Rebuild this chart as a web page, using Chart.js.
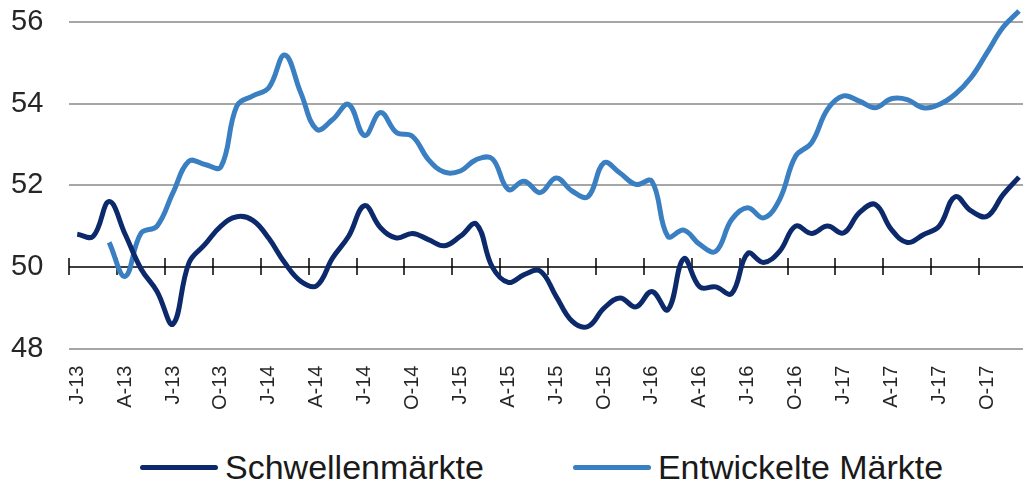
<!DOCTYPE html>
<html>
<head>
<meta charset="utf-8">
<script src="https://cdn.jsdelivr.net/npm/chart.js@4.4.1/dist/chart.umd.min.js"></script>
<style>
html,body{margin:0;padding:0;background:#fff;overflow:hidden}
#wrap{position:relative;width:1027px;height:482px}
#box{position:absolute;left:0;top:0;width:1027px;height:410px}
#legend{position:absolute;left:140px;top:448px;width:max-content;display:flex;flex-wrap:nowrap;white-space:nowrap;align-items:center;font-family:'Liberation Sans',Arial,sans-serif;font-size:34px;color:#1a1a1a}
#legend .item{display:flex;align-items:center;flex:none;margin-right:89px}
#legend .sw{display:inline-block;flex:none;width:78px;height:5px;border-radius:3px;margin-right:7px}
</style>
</head>
<body>
<div id="wrap">
  <div id="box"><canvas id="chart"></canvas></div>
  <div id="legend"></div>
</div>
<script>
// monthly PMI, Jan 2013 - Dec 2017
const months = [
  'J-13','F-13','M-13','A-13','M-13','J-13','J-13','A-13','S-13','O-13','N-13','D-13',
  'J-14','F-14','M-14','A-14','M-14','J-14','J-14','A-14','S-14','O-14','N-14','D-14',
  'J-15','F-15','M-15','A-15','M-15','J-15','J-15','A-15','S-15','O-15','N-15','D-15',
  'J-16','F-16','M-16','A-16','M-16','J-16','J-16','A-16','S-16','O-16','N-16','D-16',
  'J-17','F-17','M-17','A-17','M-17','J-17','J-17','A-17','S-17','O-17','N-17','D-17'
];

const emerging = [
  50.8, 50.75, 51.6, 50.8, 49.95, 49.4, 48.6, 50.1, 50.55, 51.0, 51.23, 51.14,
  50.7, 50.1, 49.65, 49.54, 50.22, 50.75, 51.5, 50.96, 50.71, 50.82, 50.67, 50.52,
  50.75, 51.05, 50.0, 49.62, 49.81, 49.9, 49.28, 48.67, 48.54, 48.99, 49.24, 49.02,
  49.4, 48.95, 50.2, 49.51, 49.51, 49.35, 50.33, 50.11, 50.38, 51.0, 50.82, 51.0,
  50.83, 51.33, 51.53, 50.92, 50.6, 50.79, 51.0, 51.72, 51.37, 51.24, 51.77, 52.2
];

const developed = [
  null, null, 50.6, 49.77, 50.83, 51.0, 51.82, 52.59, 52.51, 52.45, 53.94, 54.19,
  54.39, 55.19, 54.27, 53.37, 53.61, 53.98, 53.22, 53.78, 53.29, 53.2, 52.63, 52.32,
  52.35, 52.63, 52.65, 51.9, 52.1, 51.82, 52.18, 51.86, 51.72, 52.55, 52.3, 52.02,
  52.1, 50.75, 50.9, 50.55, 50.38, 51.16, 51.45, 51.2, 51.65, 52.71, 53.04, 53.86,
  54.19, 54.06, 53.9, 54.12, 54.1, 53.9, 53.98, 54.23, 54.64, 55.25, 55.87, 56.27
];

const yTicks = [48, 50, 52, 54, 56];

const font = "'Liberation Sans', Arial, sans-serif";
Chart.defaults.font.family = font;
Chart.defaults.color = '#262626';

// axis line at 50 with crossing tick marks every quarter
const axisAt50 = {
  id: 'axisAt50',
  beforeDatasetsDraw(chart) {
    const {ctx, chartArea, scales: {x, y}} = chart;
    const y0 = y.getPixelForValue(50);
    const half = (x.getPixelForValue(1) - x.getPixelForValue(0)) / 2;
    ctx.save();
    ctx.strokeStyle = '#000';
    ctx.lineWidth = 1.5;
    ctx.beginPath();
    ctx.moveTo(chartArea.left, y0);
    ctx.lineTo(chartArea.right, y0);
    for (let i = 0; i <= months.length; i += 3) {
      const px = Math.round(x.getPixelForValue(i) - half);
      ctx.moveTo(px, y0 - 9);
      ctx.lineTo(px, y0 + 8);
    }
    ctx.stroke();
    ctx.restore();
  }
};

const chart = new Chart(document.getElementById('chart'), {
  type: 'line',
  data: {
    labels: months,
    datasets: [
      { label: 'Schwellenmärkte', data: emerging, borderColor: '#0c2a6b', borderWidth: 5,
        pointRadius: 0, tension: 0.4, clip: false },
      { label: 'Entwickelte Märkte', data: developed, borderColor: '#3a7fc2', borderWidth: 5,
        pointRadius: 0, tension: 0.4, clip: false }
    ]
  },
  options: {
    responsive: true,
    maintainAspectRatio: false,
    animation: false,
    layout: { padding: { top: 22, left: 11, right: 0, bottom: 0 } },
    plugins: { legend: { display: false }, tooltip: { enabled: false } },
    scales: {
      x: {
        offset: true,
        grid: { display: true, drawOnChartArea: false, drawTicks: true, tickLength: 17,
                color: 'rgba(0,0,0,0)', tickColor: 'rgba(0,0,0,0)' },
        border: { display: false },
        ticks: {
          autoSkip: false, maxRotation: 90, minRotation: 90, padding: 0,
          font: { size: 20 },
          callback: (v, i) => (i % 3 === 0 ? months[i] : null)
        }
      },
      y: {
        min: 48, max: 56,
        afterBuildTicks: s => { s.ticks = yTicks.map(v => ({ value: v })); },
        border: { display: false },
        grid: {
          drawTicks: true,
          tickLength: 26,
          tickColor: 'rgba(0,0,0,0)',
          lineWidth: 2,
          color: c => (c.tick && c.tick.value === 50 ? 'rgba(0,0,0,0)' : '#a6a6a6')
        },
        ticks: { padding: 0, font: { size: 29 } }
      }
    }
  },
  plugins: [axisAt50]
});

document.getElementById('legend').innerHTML = chart.data.datasets.map(d =>
  `<span class="item"><span class="sw" style="background:${d.borderColor}"></span>${d.label}</span>`
).join('');
</script>
</body>
</html>
